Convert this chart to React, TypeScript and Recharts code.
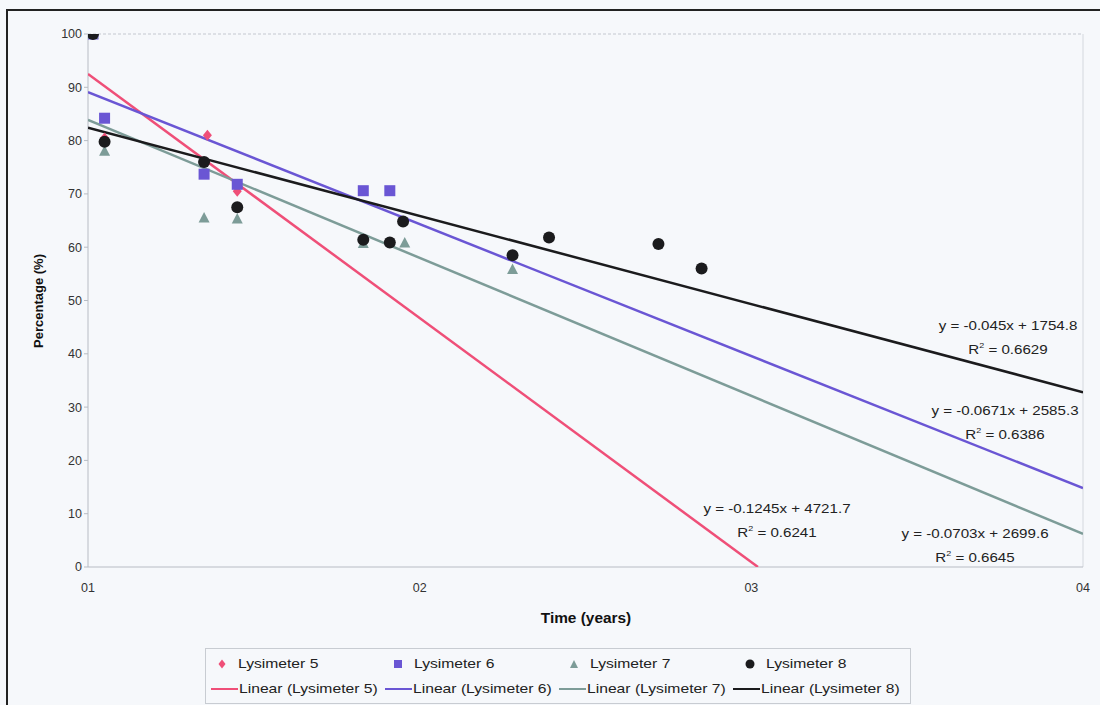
import React from "react";
import { ScatterChart, Scatter, XAxis, YAxis, ReferenceLine } from "recharts";

// x = decimal year, y = percentage
const lys5 = [
  { x: 2001.015, y: 100 }, { x: 2001.05, y: 80.5 }, { x: 2001.36, y: 81 }, { x: 2001.45, y: 70.5 },
];
const lys6 = [
  { x: 2001.015, y: 100 }, { x: 2001.05, y: 84.2 }, { x: 2001.35, y: 73.7 }, { x: 2001.45, y: 71.8 },
  { x: 2001.83, y: 70.6 }, { x: 2001.91, y: 70.6 },
];
const lys7 = [
  { x: 2001.015, y: 100 }, { x: 2001.05, y: 78 }, { x: 2001.35, y: 65.5 }, { x: 2001.45, y: 65.3 },
  { x: 2001.83, y: 60.7 }, { x: 2001.955, y: 60.8 }, { x: 2002.28, y: 55.8 },
];
const lys8 = [
  { x: 2001.015, y: 100 }, { x: 2001.05, y: 79.8 }, { x: 2001.35, y: 76 }, { x: 2001.45, y: 67.5 },
  { x: 2001.83, y: 61.4 }, { x: 2001.91, y: 60.9 }, { x: 2001.95, y: 64.8 }, { x: 2002.28, y: 58.5 },
  { x: 2002.39, y: 61.8 }, { x: 2002.72, y: 60.6 }, { x: 2002.85, y: 56 },
];

// linear trend endpoints
const trend5 = [{ x: 2001, y: 92.5 }, { x: 2003.02, y: 0 }];
const trend6 = [{ x: 2001, y: 89.1 }, { x: 2004, y: 14.8 }];
const trend7 = [{ x: 2001, y: 83.9 }, { x: 2004, y: 6.2 }];
const trend8 = [{ x: 2001, y: 82.4 }, { x: 2004, y: 32.8 }];

const xTicks = [2001, 2002, 2003, 2004];
const yTicks = [0, 10, 20, 30, 40, 50, 60, 70, 80, 90, 100];

const C5 = "#ef4f78";
const C6 = "#6a56d4";
const C7 = "#7d9c98";
const C8 = "#1b1b1d";

const FONT = "'Liberation Sans', Arial, sans-serif";
const TICK = { fontSize: 12.5, fill: "#333", fontFamily: FONT };

const Diamond = ({ cx, cy }: any) => (
  <polygon points={`${cx},${cy - 5.5} ${cx + 4.5},${cy} ${cx},${cy + 5.5} ${cx - 4.5},${cy}`} fill={C5} />
);
const Square = ({ cx, cy }: any) => <rect x={cx - 5.5} y={cy - 5.5} width={11} height={11} fill={C6} />;
const Triangle = ({ cx, cy }: any) => (
  <polygon points={`${cx},${cy - 6} ${cx + 5.5},${cy + 4.5} ${cx - 5.5},${cy + 4.5}`} fill={C7} />
);
const Dot = ({ cx, cy }: any) => <circle cx={cx} cy={cy} r={6} fill={C8} />;
const NoShape = () => <g />;

const lbl = (center: number, top: number): React.CSSProperties => ({
  position: "absolute", left: center - 100, top, width: 200, textAlign: "center", fontSize: 13.5,
  color: "#222", fontFamily: FONT, transform: "scaleX(1.12)", whiteSpace: "nowrap",
});

function Eq({ center, top, eq, r2 }: { center: number; top: number; eq: string; r2: string }) {
  return (
    <>
      <div style={lbl(center, top)}>{eq}</div>
      <div style={lbl(center, top + 23)}>
        R<sup style={{ fontSize: 8 }}>2</sup> = {r2}
      </div>
    </>
  );
}

const legendItems = [
  { name: "Lysimeter 5", color: C5, kind: "diamond" },
  { name: "Lysimeter 6", color: C6, kind: "square" },
  { name: "Lysimeter 7", color: C7, kind: "triangle" },
  { name: "Lysimeter 8", color: C8, kind: "circle" },
];

function Marker({ kind, color }: { kind: string; color: string }) {
  return (
    <svg width={12} height={12} style={{ position: "absolute", left: -6, top: -6 }}>
      {kind === "diamond" && <polygon points="6,1.5 9.5,6 6,10.5 2.5,6" fill={color} />}
      {kind === "square" && <rect x={2} y={2} width={8} height={8} fill={color} />}
      {kind === "triangle" && <polygon points="6,2 10,10 2,10" fill={color} />}
      {kind === "circle" && <circle cx={6} cy={6} r={4.5} fill={color} />}
    </svg>
  );
}

const legText: React.CSSProperties = {
  position: "absolute", fontSize: 13.5, whiteSpace: "nowrap", transform: "scaleX(1.16)",
  transformOrigin: "left center", lineHeight: "16px",
};

export default function App() {
  return (
    <div style={{ position: "absolute", left: 0, top: 0, width: 1100, height: 705, background: "#f6f8fb", overflow: "hidden", fontFamily: FONT }}>
      <div style={{ position: "absolute", left: 6, top: 9, width: 1100, height: 700, borderTop: "2px solid #222", borderLeft: "2px solid #222" }} />
      <ScatterChart width={1100} height={640} margin={{ top: 34, right: 17, bottom: 43, left: 28 }}>
        <XAxis
          type="number"
          dataKey="x"
          domain={[2001, 2004]}
          ticks={xTicks}
          tickFormatter={(v: number) => String(v).slice(2)}
          tick={TICK}
          tickLine={false}
          axisLine={{ stroke: "#b8bcc4" }}
          height={30}
          tickMargin={10}
          allowDataOverflow
        />
        <YAxis
          type="number"
          dataKey="y"
          domain={[0, 100]}
          ticks={yTicks}
          tick={TICK}
          tickLine={{ stroke: "#b8bcc4" }}
          tickSize={4}
          axisLine={{ stroke: "#b8bcc4" }}
          width={60}
          allowDataOverflow
        />
        <ReferenceLine y={100} stroke="#c4c8d0" strokeDasharray="3 2" />
        <ReferenceLine x={2004} stroke="#d4d8de" />
        <Scatter data={trend5} line={{ stroke: C5, strokeWidth: 2.5 }} shape={NoShape} isAnimationActive={false} />
        <Scatter data={trend6} line={{ stroke: C6, strokeWidth: 2.5 }} shape={NoShape} isAnimationActive={false} />
        <Scatter data={trend7} line={{ stroke: C7, strokeWidth: 2.5 }} shape={NoShape} isAnimationActive={false} />
        <Scatter data={trend8} line={{ stroke: C8, strokeWidth: 2.5 }} shape={NoShape} isAnimationActive={false} />
        <Scatter data={lys5} shape={Diamond} isAnimationActive={false} />
        <Scatter data={lys6} shape={Square} isAnimationActive={false} />
        <Scatter data={lys7} shape={Triangle} isAnimationActive={false} />
        <Scatter data={lys8} shape={Dot} isAnimationActive={false} />
      </ScatterChart>

      <div style={{ position: "absolute", left: 38, top: 301, transform: "translate(-50%, -50%) rotate(-90deg)", fontSize: 13, fontWeight: "bold", whiteSpace: "nowrap", color: "#111" }}>
        Percentage (%)
      </div>
      <div style={{ position: "absolute", left: 586, top: 618, transform: "translate(-50%, -50%) scaleX(1.1)", fontSize: 14, fontWeight: "bold", whiteSpace: "nowrap", color: "#111" }}>
        Time (years)
      </div>

      <Eq center={1008} top={318} eq="y = -0.045x + 1754.8" r2="0.6629" />
      <Eq center={1005} top={403} eq="y = -0.0671x + 2585.3" r2="0.6386" />
      <Eq center={777} top={501} eq="y = -0.1245x + 4721.7" r2="0.6241" />
      <Eq center={975} top={526} eq="y = -0.0703x + 2699.6" r2="0.6645" />

      <div style={{ position: "absolute", left: 205, top: 648, width: 706, height: 56, border: "1px solid #c8ccd2", boxSizing: "border-box", fontSize: 13.5, color: "#222" }}>
        {legendItems.map((it, i) => (
          <div key={it.name} style={{ position: "absolute", left: 16 + i * 176, top: 15 }}>
            <Marker kind={it.kind} color={it.color} />
            <span style={{ ...legText, left: 16, top: -8 }}>{it.name}</span>
          </div>
        ))}
        {legendItems.map((it, i) => (
          <div key={"l" + it.name} style={{ position: "absolute", left: 5 + i * 174, top: 40 }}>
            <span style={{ position: "absolute", left: 0, top: -1.5, width: 27, height: 2.5, background: it.color }} />
            <span style={{ ...legText, left: 28, top: -8 }}>Linear ({it.name})</span>
          </div>
        ))}
      </div>
    </div>
  );
}
